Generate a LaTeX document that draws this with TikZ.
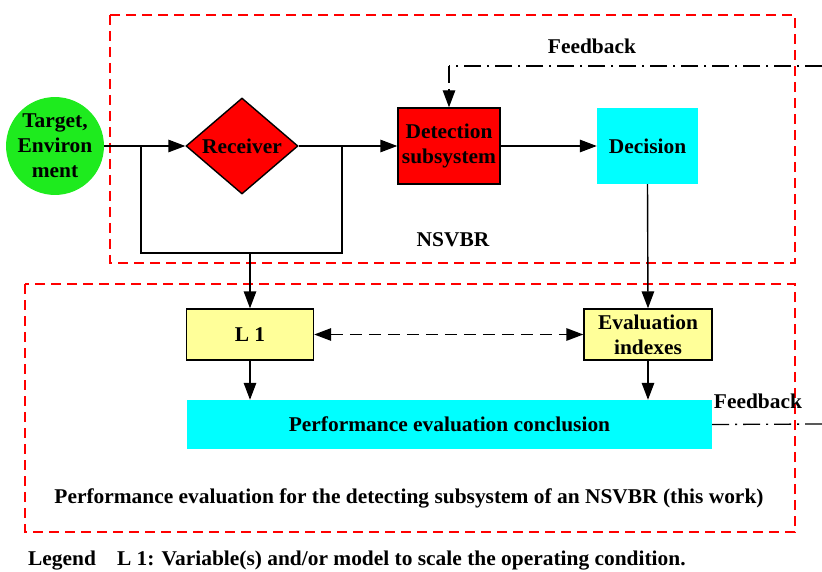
\documentclass[tikz,border=0pt]{standalone}
\usepackage{fontspec}
\setmainfont{Liberation Serif}[FakeStretch=1.02]
\usetikzlibrary{shapes.geometric,arrows.meta}
\definecolor{cgreen}{RGB}{30,235,30}
\definecolor{cred}{RGB}{255,0,0}
\definecolor{ccyan}{RGB}{0,255,255}
\definecolor{cyellow}{RGB}{255,255,153}
\tikzset{
  lbl/.style={font=\fontsize{21}{25}\selectfont\bfseries, align=center, inner sep=0pt},
  blk/.style={lbl, draw=black, line width=1.4pt},
  conn/.style={line width=1.4pt, draw=black},
  tip/.tip={Triangle[length=17pt,width=12.5pt]},
  arr/.style={conn, -tip},
  regionbox/.style={draw=cred, line width=1.4pt, dash pattern=on 10pt off 6pt},
  fb/.style={line width=1.3pt, dash pattern=on 17pt off 6pt on 2pt off 6pt},
}
\begin{document}
\begin{tikzpicture}[x=1pt,y=-1pt]
\useasboundingbox (0,0) rectangle (822,572);
% region boxes
\draw[regionbox] (110,15) rectangle (795,263);
\draw[regionbox] (25,284) rectangle (795,532);
% nodes
\node[lbl, circle, fill=cgreen, minimum size=94pt] (tgt) at (55,146) {Target,\\Environ\\ment};
\node[blk, diamond, fill=cred, minimum width=112pt, minimum height=96pt, aspect=1.17] (rcv) at (242,146) {Receiver};
\node[blk, fill=cred, minimum width=102pt, minimum height=76pt] (det) at (449,146) {Detection\\subsystem};
\node[lbl, fill=ccyan, minimum width=101pt, minimum height=76pt] (dec) at (647.5,146) {Decision};
\node[blk, fill=cyellow, minimum width=127pt, minimum height=51pt] (l1) at (250,334.5) {L 1};
\node[blk, fill=cyellow, minimum width=128pt, minimum height=51pt] (ev) at (648,334.5) {Evaluation\\indexes};
\node[lbl, fill=ccyan, minimum width=525pt, minimum height=49pt] (perf) at (449.5,424.5) {Performance evaluation conclusion};
% labels
\node[lbl] (fb1) at (592,46) {Feedback};
\node[lbl] (fb2) at (758,401) {Feedback};
\node[lbl] (nsvbr) at (453,240) {NSVBR};
\node[lbl] (pe) at (409,498) {Performance evaluation for the detecting subsystem of an NSVBR (this work)};
\node[lbl, anchor=west] (leg) at (28,561) {Legend\quad L 1: Variable(s) and/or model to scale the operating condition.};
% coordinates
\coordinate (j1) at (141,146);
\coordinate (j2) at (342,146);
\coordinate (b1) at (141,253);
\coordinate (b2) at (342,253);
\coordinate (b3) at (250,253);
\coordinate (fbA) at (449,66);
\coordinate (fbB) at (822,66);
\coordinate (fbC) at (822,424);
% connectors
\draw[arr] (tgt.east) -- (rcv.west);
\draw[conn] (j1) -- (b1) -- (b2) -- (j2);
\draw[arr] (b3) -- (l1.north);
\draw[arr] (rcv.east) -- (det.west);
\draw[arr] (det.east) -- (dec.west);
\draw[arr] (dec.south) -- (ev.north);
\draw[conn, dash pattern=on 12pt off 7pt, tip-tip] (l1.east) -- (ev.west);
\draw[arr] (l1.south) -- (l1.south |- perf.north);
\draw[arr] (ev.south) -- (ev.south |- perf.north);
\draw[fb] (fbB) -- (fbA);
\draw[fb, -tip] (fbA) -- (det.north);
\draw[fb] (perf.east) -- (fbC);
\end{tikzpicture}
\end{document}
